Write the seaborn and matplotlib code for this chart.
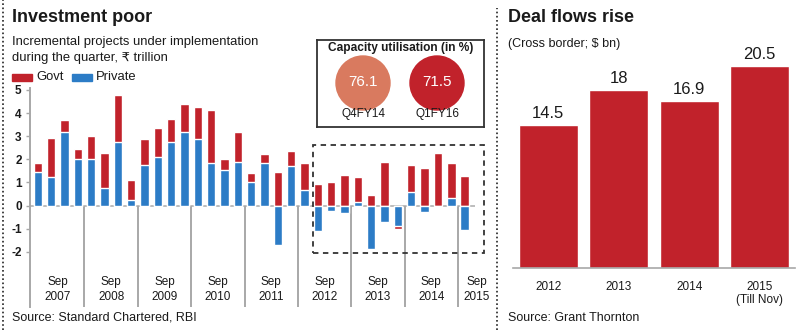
import numpy as np
import pandas as pd
import matplotlib
matplotlib.use("Agg")
import matplotlib.pyplot as plt
from matplotlib.patches import Rectangle, Circle
from matplotlib.lines import Line2D
import seaborn as sns

# ---------------- data ----------------
quarters = list(range(33))
private = [1.47, 1.25, 3.20, 2.00, 2.00, 0.75, 2.75, 0.25,
           1.76, 2.09, 2.75, 3.20, 2.87, 1.86, 1.54, 1.87,
           1.04, 1.83, -1.71, 1.71, 0.69, -1.10, -0.23, -0.30,
           0.15, -1.88, -0.71, -0.88, 0.59, -0.28, 0.00, 0.31, -1.07]
govt = [0.36, 1.69, 0.49, 0.46, 1.01, 1.51, 2.02, 0.85,
        1.11, 1.25, 0.98, 1.19, 1.41, 2.25, 0.46, 1.33,
        0.36, 0.42, 1.44, 0.65, 1.15, 0.95, 1.02, 1.32,
        1.10, 0.47, 1.90, -0.14, 1.16, 1.63, 2.28, 1.52, 1.27]
year_labels = ["Sep\n2007", "Sep\n2008", "Sep\n2009", "Sep\n2010", "Sep\n2011",
               "Sep\n2012", "Sep\n2013", "Sep\n2014", "Sep\n2015"]
y_ticks = [-2, -1, 0, 1, 2, 3, 4, 5]

cap_labels = ["Q4FY14", "Q1FY16"]
cap_values = [76.1, 71.5]

deal_years = ["2012", "2013", "2014", "2015\n(Till Nov)"]
deal_values = [14.5, 18, 16.9, 20.5]

RED = "#c1222b"
BLUE = "#2c7cc6"
SALMON = "#d97a5f"
GREY = "#a8a8a8"
TXT = "#1a1a1a"

sns.set_style("white")
plt.rcParams["font.family"] = ["Liberation Sans", "DejaVu Sans"]

fig = plt.figure(figsize=(8, 3.3), dpi=100)
W, H = 800, 330

def fx(px):
    return px / W

def fy(py):
    return 1 - py / H

# ---------------- left chart ----------------
axL = fig.add_axes([fx(30), fy(307), fx(486 - 30), (307 - 88) / H])
red_h = [g + p if (g * p > 0) else g for g, p in zip(govt, private)]
df = pd.DataFrame({"q": quarters, "red": red_h, "blue": private})
sns.barplot(data=df, x="q", y="red", color=RED, width=0.63, saturation=1, ax=axL, zorder=2)
sns.barplot(data=df, x="q", y="blue", color=BLUE, width=0.63, saturation=1, ax=axL, zorder=3)
axL.set_xlim(-0.58, 33.6)
axL.set_ylim(-4.38, 5.08)
axL.set_xlabel("")
axL.set_ylabel("")
for s in ["top", "right", "bottom"]:
    axL.spines[s].set_visible(False)
axL.spines["left"].set_color(GREY)
axL.spines["left"].set_linewidth(1.4)
axL.set_xticks([])
axL.set_yticks(y_ticks)
axL.set_yticklabels([str(v) for v in y_ticks], fontsize=8.5, color=TXT, fontweight="bold")
axL.tick_params(axis="y", length=3, width=1, color=GREY, pad=3, left=True)
axL.hlines(0, -0.58, 32.8, color="#bdbdbd", lw=1.4, zorder=1)
for k in range(1, 9):
    axL.vlines(4 * k - 0.5, -4.38, 0, color=GREY, lw=1.4, zorder=1)
lab_pos = [4 * k + 1.5 for k in range(8)] + [32.9]
for xp, lab in zip(lab_pos, year_labels):
    axL.text(xp, -3.62, lab, ha="center", va="center", fontsize=8.5, color=TXT, linespacing=1.25)
axL.add_patch(Rectangle((20.62, -2.05), 33.43 - 20.62, 2.63 + 2.05, fill=False,
                        ls=(0, (3, 2.5)), lw=1.3, ec="#333333", zorder=4, clip_on=False))

# titles & legend left
fig.text(fx(12), fy(17), "Investment poor", fontsize=13, fontweight="bold", color=TXT, va="center")
fig.text(fx(12), fy(42), "Incremental projects under implementation", fontsize=9.4, color=TXT, va="center")
fig.text(fx(12), fy(58), "during the quarter, \u20b9 trillion", fontsize=9.4, color=TXT, va="center")
fig.add_artist(Rectangle((fx(12), fy(81)), fx(20), 7 / H, color=RED, transform=fig.transFigure))
fig.text(fx(36), fy(77), "Govt", fontsize=9.4, color=TXT, va="center")
fig.add_artist(Rectangle((fx(72), fy(81)), fx(20), 7 / H, color=BLUE, transform=fig.transFigure))
fig.text(fx(96), fy(77), "Private", fontsize=9.4, color=TXT, va="center")
fig.text(fx(12), fy(318), "Source: Standard Chartered, RBI", fontsize=9, color=TXT, va="center")

# ---------------- capacity box ----------------
axC = fig.add_axes([fx(317), fy(127), fx(167), 87 / H])
axC.set_xlim(0, 167)
axC.set_ylim(87, 0)
axC.set_xticks([])
axC.set_yticks([])
for s in axC.spines.values():
    s.set_color("#333333")
    s.set_linewidth(1.3)
axC.text(83.5, 8, "Capacity utilisation (in %)", ha="center", va="center", fontsize=8.6,
         fontweight="bold", color=TXT)
for cx, val, lab, col in zip([46, 120], cap_values, cap_labels, [SALMON, RED]):
    axC.add_patch(Circle((cx, 43), 27, color=col))
    axC.text(cx, 42, f"{val}", ha="center", va="center", fontsize=11, color="white")
    axC.text(cx, 74, lab, ha="center", va="center", fontsize=8.5, color=TXT)

# ---------------- right chart ----------------
axR = fig.add_axes([fx(513), fy(268), fx(282), 218 / H])
dfr = pd.DataFrame({"year": deal_years, "val": deal_values})
sns.barplot(data=dfr, x="year", y="val", color=RED, width=0.84, saturation=1, ax=axR)
axR.set_xlim(-0.5, 3.5)
axR.set_ylim(0, 22.1)
axR.set_xlabel("")
axR.set_ylabel("")
axR.set_yticks([])
for s in ["top", "right", "left"]:
    axR.spines[s].set_visible(False)
axR.spines["bottom"].set_color(GREY)
axR.spines["bottom"].set_linewidth(1.2)
axR.tick_params(axis="x", length=0, pad=9, labelsize=8.5, labelcolor=TXT)
for lab in axR.get_xticklabels():
    lab.set_va("top")
    lab.set_linespacing(1.2)
axR.bar_label(axR.containers[0], labels=[f"{v:g}" for v in deal_values], padding=3,
              fontsize=12, color=TXT)
fig.text(fx(508), fy(17), "Deal flows rise", fontsize=13, fontweight="bold", color=TXT, va="center")
fig.text(fx(508), fy(44), "(Cross border; $ bn)", fontsize=9, color=TXT, va="center")
fig.text(fx(508), fy(318), "Source: Grant Thornton", fontsize=9, color=TXT, va="center")

# ---------------- dotted frames ----------------
fig.add_artist(Line2D([fx(3), fx(3)], [0, 1], transform=fig.transFigure, ls=(0, (1, 1.5)),
                      color="#222222", lw=1.2))
fig.add_artist(Line2D([fx(497), fx(497)], [0, fy(8)], transform=fig.transFigure, ls=(0, (1, 1.5)),
                      color="#222222", lw=1.2))

fig.savefig("out.png", dpi=100)
